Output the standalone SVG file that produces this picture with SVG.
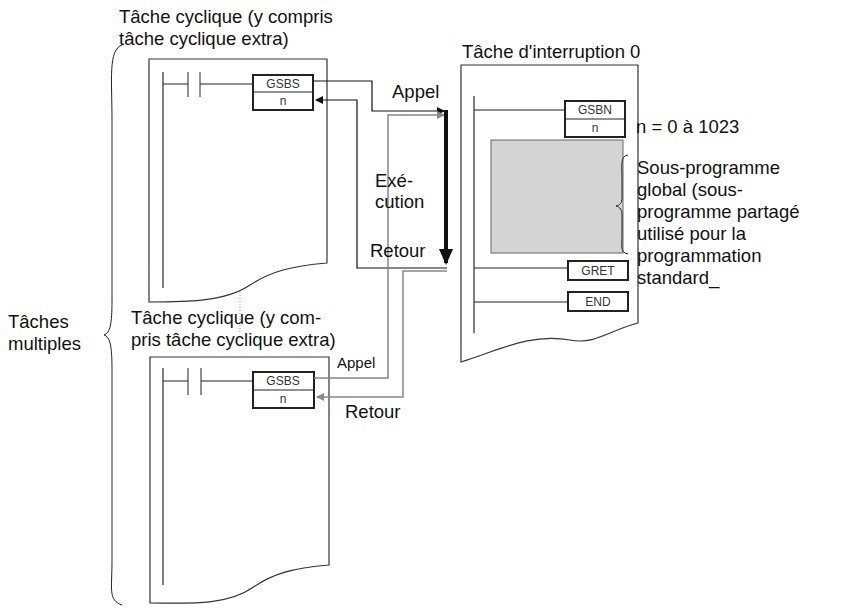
<svg xmlns="http://www.w3.org/2000/svg" width="864" height="609" viewBox="0 0 864 609">
<style>
text{font-family:"Liberation Sans",Arial,sans-serif;font-size:18.5px;fill:#111}
.s{font-size:12px;text-anchor:middle;fill:#333}
.pg{fill:#fff;stroke:#333;stroke-width:1.2}
.r{stroke:#555;stroke-width:1.5;fill:none}
.l{stroke:#222;stroke-width:1;fill:none}
.b{fill:#fff;stroke:#222;stroke-width:2}
.k{stroke:#111;stroke-width:1.2;fill:none}
.g{stroke:#888;stroke-width:1.5;fill:none}
</style>
<defs>
<marker id="ak" markerWidth="8" markerHeight="8" refX="7" refY="4" orient="auto" markerUnits="userSpaceOnUse"><path d="M0,0L8,4L0,8z" fill="#111"/></marker>
<marker id="ag" markerWidth="8" markerHeight="8" refX="7" refY="4" orient="auto" markerUnits="userSpaceOnUse"><path d="M0,0L8,4L0,8z" fill="#888"/></marker>
<marker id="ab" markerWidth="16" markerHeight="14" refX="14" refY="7" orient="auto" markerUnits="userSpaceOnUse"><path d="M0,0L16,7L0,14z" fill="#111"/></marker>
</defs>
<text x="119" y="23">Tâche cyclique (y compris</text>
<text x="119" y="45">tâche cyclique extra)</text>
<text x="462" y="58">Tâche d'interruption 0</text>
<text x="8" y="328">Tâches</text>
<text x="8" y="350">multiples</text>
<path d="M122,45 C108,50 112,80 112,120 L112,300 C112,325 110,333 104,335 C110,337 112,345 112,370 L112,560 C112,590 108,600 122,605" class="l" stroke-width="1.2"/>

<g id="task-top">
<path class="pg" d="M149,59 L327,59 L327,263 C290,266 270,272 250,285 C225,302 185,302 149,302 Z"/>
<line class="r" x1="163" y1="72" x2="163" y2="288"/>
<path class="l" d="M163,84H188M200,84H253M188,72V97M200,72V97"/>
<rect class="b" x="253" y="75" width="60" height="35"/>
<line class="l" x1="253" y1="92" x2="313" y2="92" stroke-width="2"/>
<text class="s" x="283" y="88">GSBS</text>
<text class="s" x="283" y="105">n</text>
</g>

<line x1="240" y1="292" x2="240" y2="333" stroke="#999" stroke-dasharray="1,2"/>
<text x="131" y="324">Tâche cyclique (y com-</text>
<text x="131" y="346">pris tâche cyclique extra)</text>

<g id="task-bottom">
<path class="pg" d="M150,357 L329,357 L329,565 C292,568 272,574 252,588 C226,606 186,603 150,603 Z"/>
<line class="r" x1="163" y1="368" x2="163" y2="585"/>
<path class="l" d="M163,381H188M201,381H253M188,368V395M201,368V395"/>
<rect class="b" x="253" y="372" width="61" height="36"/>
<line class="l" x1="253" y1="390" x2="314" y2="390" stroke-width="2"/>
<text class="s" x="283" y="385">GSBS</text>
<text class="s" x="283" y="403">n</text>
</g>

<g id="task-interrupt">
<path class="pg" d="M461,65 L638,65 L638,323 C610,330 595,345 570,340 C530,333 500,350 461,362 Z"/>
<line class="r" x1="474" y1="96" x2="474" y2="333"/>
<path class="l" d="M474,110H565M474,268H568M474,302H568"/>
<rect class="b" x="565" y="101" width="60" height="36"/>
<line class="l" x1="565" y1="119" x2="625" y2="119" stroke-width="2"/>
<text class="s" x="595" y="114">GSBN</text>
<text class="s" x="595" y="132">n</text>
<rect x="491" y="140" width="132" height="113" fill="#d4d4d4" stroke="#666"/>
<rect class="b" x="568" y="261" width="60" height="19"/>
<text class="s" x="598" y="275">GRET</text>
<rect class="b" x="568" y="292" width="60" height="19"/>
<text class="s" x="598" y="306">END</text>
</g>

<g id="connectors">
<path class="k" d="M313,81H372V111H444" marker-end="url(#ak)"/>
<path class="k" d="M447,268H357V100H316" marker-end="url(#ak)"/>
<path class="g" d="M314,378H388V115H444" marker-end="url(#ag)"/>
<path class="g" d="M447,271H403V397H317" marker-end="url(#ag)"/>
<line x1="446" y1="110" x2="446" y2="263" stroke="#111" stroke-width="4" marker-end="url(#ab)"/>
</g>

<text x="392" y="98">Appel</text>
<text x="375" y="187">Exé-</text>
<text x="375" y="208">cution</text>
<text x="370" y="257">Retour</text>
<text x="337" y="368" style="font-size:15px">Appel</text>
<text x="345" y="418">Retour</text>

<text x="636" y="133">n = 0 à 1023</text>
<path class="l" d="M628,155 C620,156 622,165 622,180 L622,198 C622,203 620,205 616,206 C620,207 622,210 622,215 L622,235 C622,248 620,252 628,254" stroke-width="1.2"/>
<text x="637" y="174">Sous-programme</text>
<text x="637" y="196">global (sous-</text>
<text x="637" y="218">programme partagé</text>
<text x="637" y="240">utilisé pour la</text>
<text x="637" y="262">programmation</text>
<text x="637" y="284">standard_</text>
</svg>
